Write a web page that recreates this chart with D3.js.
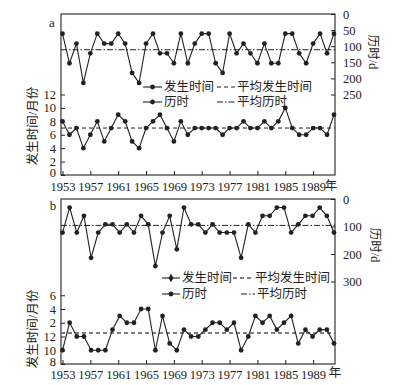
<!DOCTYPE html>
<html><head><meta charset="utf-8">
<script src="https://cdn.jsdelivr.net/npm/d3@7"></script>
<style>body{margin:0;background:#fff} svg{display:block}</style>
</head><body>
<script>
// ---------- data ----------
const yearsA = [1953,1954,1955,1956,1957,1958,1959,1960,1961,1962,1963,1964,1965,1966,1967,1968,1969,1970,1971,1972,
                1973,1974,1975,1976,1977,1978,1979,1980,1981,1982,1983,1984,1985,1986,1987,1988,1989,1990,1991,1992];
const yearsB = [1953,1954,1955,1956,1957,1958,1959,1960,1961,1962,1963,1964,1965,1966,1967,1968,1969,1970,1971,1972,
                1973,1974,1975,1976,1977,1978,1979,1980,1981,1982,1983,1984,1985,1986,1987,1988,1989,1990,1991];
// panel a: onset month, duration (days)
const onsetA = [8,6,7,4,6,8,5,7,9,8, 5,4,7,8,9,7,5,8,6,7, 7,7,7,6,7,7,8,7,7,8, 7,8,10,7,6,6,7,7,6,9];
const durationA = [61,153,92,214,122,61,92,92,61,92, 183,214,92,61,122,122,153,61,153,92,
                   61,61,153,183,61,122,92,122,153,92, 153,153,61,61,122,153,92,61,122,61];
const meanOnsetA = 7;
const meanDurationA = 111;
// panel b: onset month (13 = January of following year, etc.), duration (days)
const onsetB = [10,14,12,12,10,10,10,13,15,14, 14,16,16,10,15,11,10,13,12,12,
                13,14,14,13,14,10,12,15,14,15, 13,14,15,11,13,12,13,13,11];
const durationB = [122,31,122,61,214,122,92,92,122,92, 122,61,92,244,122,61,183,31,92,92,
                   122,92,122,122,122,214,92,122,61,61, 31,31,122,92,61,61,31,61,122];
const meanOnsetB = 12.5;
const meanDurationB = 96;

const xTickYears = [1953,1957,1961,1965,1969,1973,1977,1981,1985,1989];
const leftTicksA = [0,2,4,6,8,10,12];
const leftLabelsA = ["0","2","4","6","8","10","12"];
const rightTicksA = [0,50,100,150,200,250];
const leftTicksB = [8,10,12,14,16,18];
const leftLabelsB = ["8","10","12","2","4","6"];
const rightTicksB = [0,100,200,300];

const legendNames = ["发生时间","平均发生时间","历时","平均历时"];

// ---------- drawing ----------
const W = 410, H = 385;
const FONT = "'Liberation Serif','Noto Sans CJK SC',serif";
const INK = "#222";
const svg = d3.select("body").append("svg").attr("width", W).attr("height", H)
  .style("font-family", FONT);

function panel(cfg) {
  const g = svg.append("g");
  const {top, bottom, left, right} = cfg;
  const x = d3.scaleLinear().domain(d3.extent(cfg.years)).range([left + 1.5, right - 1]);
  const xt = d3.scaleLinear().domain([1953, 1992]).range([left + 1.5, right - 1]);
  const yL = d3.scaleLinear().domain(cfg.leftDomain).range([bottom, top]);
  const yR = d3.scaleLinear().domain(cfg.rightDomain).range([top, bottom]);

  const styleAxis = sel => {
    sel.select(".domain").remove();
    sel.selectAll("line").attr("stroke", INK);
    sel.selectAll("text").attr("fill", INK).style("font-size", "12.5px").style("font-family", FONT);
  };

  g.append("g").attr("transform", `translate(${left},0)`)
    .call(d3.axisLeft(yL).tickValues(cfg.leftTicks).tickFormat((d, i) => cfg.leftLabels[i]).tickSize(-4).tickPadding(5))
    .call(styleAxis)
    .call(a => a.selectAll("text").filter((d, i) => i === 0).attr("dy", "0.08em"));
  g.append("g").attr("transform", `translate(${right},0)`)
    .call(d3.axisRight(yR).tickValues(cfg.rightTicks).tickSize(-4).tickPadding(8))
    .call(styleAxis);
  g.append("g").attr("transform", `translate(0,${bottom})`)
    .call(d3.axisBottom(xt).tickValues(xTickYears).tickFormat(d3.format("d")).tickSize(-4).tickPadding(cfg.xPad))
    .call(styleAxis);

  // frame
  g.append("rect").attr("x", left).attr("y", top).attr("width", right - left).attr("height", bottom - top)
    .attr("fill", "none").attr("stroke", INK).attr("stroke-width", 1.1);

  // mean lines
  g.append("line").attr("x1", left).attr("x2", right)
    .attr("y1", yL(cfg.meanOnset)).attr("y2", yL(cfg.meanOnset))
    .attr("stroke", cfg.dashColor).attr("stroke-width", cfg.dashWidth).attr("stroke-dasharray", "4,3");
  g.append("line").attr("x1", left).attr("x2", right)
    .attr("y1", yR(cfg.meanDuration)).attr("y2", yR(cfg.meanDuration))
    .attr("stroke", INK).attr("stroke-width", 1).attr("stroke-dasharray", "6,2,1.5,2");

  // series
  const series = [
    {vals: cfg.onset, y: yL},
    {vals: cfg.duration, y: yR}
  ];
  series.forEach(s => {
    const pts = cfg.years.map((yr, i) => [x(yr), s.y(s.vals[i])]);
    g.append("path").attr("d", d3.line()(pts)).attr("fill", "none")
      .attr("stroke", INK).attr("stroke-width", 1.1);
    g.selectAll(null).data(pts).enter().append("circle")
      .attr("cx", d => d[0]).attr("cy", d => d[1]).attr("r", 2.4).attr("fill", INK);
  });

  // panel label
  g.append("text").attr("x", cfg.tag[1]).attr("y", cfg.tag[2]).attr("text-anchor", "middle")
    .attr("dominant-baseline", "central").style("font-size", "13px").attr("fill", INK).text(cfg.tag[0]);

  // year unit
  g.append("text").attr("x", cfg.nian[0]).attr("y", cfg.nian[1]).attr("text-anchor", "middle")
    .attr("dominant-baseline", "central").style("font-size", "12.5px").attr("fill", INK).text("年");

  // axis titles
  g.append("text").attr("transform", `translate(${cfg.lt[0]},${cfg.lt[1]}) rotate(-90)`)
    .attr("text-anchor", "middle").attr("dominant-baseline", "central")
    .style("font-size", "12.5px").attr("fill", INK).text("发生时间/月份");
  g.append("text").attr("transform", `translate(${cfg.rt[0]},${cfg.rt[1]}) rotate(90)`)
    .attr("text-anchor", "middle").attr("dominant-baseline", "central")
    .style("font-size", "12.5px").attr("fill", INK).text("历时/d");

  // legend
  const L = cfg.legend;
  const rows = [
    {y: L.y1, mx: L.m1, dx: L.d1, diamond: L.diamond, names: [legendNames[0], legendNames[1]], dash: "4,3", dcol: cfg.dashColor, dw: cfg.dashWidth},
    {y: L.y2, mx: L.m2, dx: L.d2, diamond: false, names: [legendNames[2], legendNames[3]], dash: "6,2,1.5,2", dcol: INK, dw: 1}
  ];
  rows.forEach(r => {
    g.append("line").attr("x1", r.mx[0]).attr("x2", r.mx[1]).attr("y1", r.y).attr("y2", r.y)
      .attr("stroke", INK).attr("stroke-width", 1.1);
    const cx = (r.mx[0] + r.mx[1]) / 2;
    if (r.diamond) {
      g.append("path").attr("d", d3.symbol(d3.symbolDiamond, 22)()).attr("transform", `translate(${cx},${r.y})`).attr("fill", INK);
    } else {
      g.append("circle").attr("cx", cx).attr("cy", r.y).attr("r", 2.4).attr("fill", INK);
    }
    g.append("text").attr("x", r.mx[1] + 2).attr("y", r.y).attr("dominant-baseline", "central")
      .style("font-size", "12.5px").attr("fill", INK).text(r.names[0]);
    g.append("line").attr("x1", r.dx[0]).attr("x2", r.dx[1]).attr("y1", r.y).attr("y2", r.y)
      .attr("stroke", r.dcol).attr("stroke-width", r.dw).attr("stroke-dasharray", r.dash);
    g.append("text").attr("x", r.dx[1] + 2).attr("y", r.y).attr("dominant-baseline", "central")
      .style("font-size", "12.5px").attr("fill", INK).text(r.names[1]);
  });
}

panel({
  top: 14, bottom: 175, left: 61, right: 335,
  years: yearsA, onset: onsetA, duration: durationA,
  meanOnset: meanOnsetA, meanDuration: meanDurationA,
  leftDomain: [0, 24], rightDomain: [0, 500],
  leftTicks: leftTicksA, leftLabels: leftLabelsA, rightTicks: rightTicksA,
  xPad: 7, dashColor: INK, dashWidth: 1,
  tag: ["a", 52, 22], nian: [331, 186],
  lt: [33, 126], rt: [373, 52],
  legend: {y1: 87, y2: 102, m1: [143, 162], m2: [143, 162], d1: [217, 235], d2: [217, 235], diamond: false}
});

panel({
  top: 199, bottom: 364, left: 61, right: 335,
  years: yearsB, onset: onsetB, duration: durationB,
  meanOnset: meanOnsetB, meanDuration: meanDurationB,
  leftDomain: [8, 32], rightDomain: [0, 600],
  leftTicks: leftTicksB, leftLabels: leftLabelsB, rightTicks: rightTicksB,
  xPad: 6, dashColor: "#555", dashWidth: 1.4,
  tag: ["b", 53, 205], nian: [335, 373],
  lt: [33, 329], rt: [375, 245],
  legend: {y1: 278, y2: 294, m1: [162, 180], m2: [162, 180], d1: [233, 253], d2: [241, 255], diamond: true}
});
</script>
</body></html>
